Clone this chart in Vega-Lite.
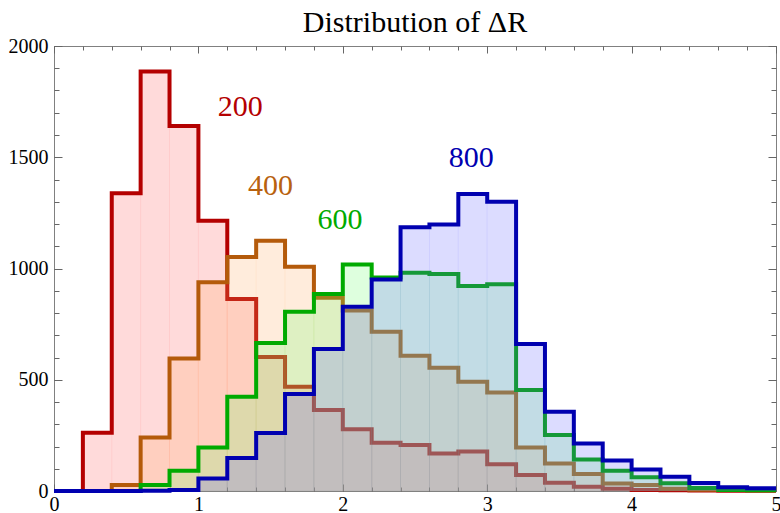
{
  "$schema": "https://vega.github.io/schema/vega-lite/v6.json",
  "width": 722,
  "height": 445,
  "autosize": {"type": "none"},
  "padding": {"left": 54, "top": 46, "right": 4, "bottom": 22},
  "background": "white",
  "title": {"text": "Distribution of ΔR", "font": "Liberation Serif, Times New Roman, serif", "fontSize": 30, "fontWeight": "normal", "color": "black", "anchor": "middle", "offset": -2},
  "config": {
    "view": {"stroke": "#808080", "strokeWidth": 1},
    "text": {"font": "Liberation Serif, Times New Roman, serif"},
    "axis": {"domain": false, "grid": false, "labelFont": "Liberation Serif, Times New Roman, serif", "labelFontSize": 20, "labelColor": "black", "tickColor": "#666666", "tickWidth": 1, "labelOverlap": false, "labelFlush": false, "labelBound": false}
  },
  "resolve": {"axis": {"x": "independent", "y": "independent"}},
  "datasets": {
    "hist": [
      {"s":"200","x0":0,"x1":0.2,"n":0},{"s":"200","x0":0.2,"x1":0.4,"n":262},{"s":"200","x0":0.4,"x1":0.6,"n":1338},{"s":"200","x0":0.6,"x1":0.8,"n":1885},{"s":"200","x0":0.8,"x1":1,"n":1640},
      {"s":"200","x0":1,"x1":1.2,"n":1215},{"s":"200","x0":1.2,"x1":1.4,"n":863},{"s":"200","x0":1.4,"x1":1.6,"n":602},{"s":"200","x0":1.6,"x1":1.8,"n":469},{"s":"200","x0":1.8,"x1":2,"n":364},
      {"s":"200","x0":2,"x1":2.2,"n":278},{"s":"200","x0":2.2,"x1":2.4,"n":217},{"s":"200","x0":2.4,"x1":2.6,"n":207},{"s":"200","x0":2.6,"x1":2.8,"n":169},{"s":"200","x0":2.8,"x1":3,"n":177},
      {"s":"200","x0":3,"x1":3.2,"n":120},{"s":"200","x0":3.2,"x1":3.4,"n":72},{"s":"200","x0":3.4,"x1":3.6,"n":37},{"s":"200","x0":3.6,"x1":3.8,"n":19},{"s":"200","x0":3.8,"x1":4,"n":10},
      {"s":"200","x0":4,"x1":4.2,"n":5},{"s":"200","x0":4.2,"x1":4.4,"n":3},{"s":"200","x0":4.4,"x1":4.6,"n":2},{"s":"200","x0":4.6,"x1":4.8,"n":1},{"s":"200","x0":4.8,"x1":5,"n":1},

      {"s":"400","x0":0,"x1":0.2,"n":0},{"s":"400","x0":0.2,"x1":0.4,"n":0},{"s":"400","x0":0.4,"x1":0.6,"n":27},{"s":"400","x0":0.6,"x1":0.8,"n":241},{"s":"400","x0":0.8,"x1":1,"n":596},
      {"s":"400","x0":1,"x1":1.2,"n":938},{"s":"400","x0":1.2,"x1":1.4,"n":1052},{"s":"400","x0":1.4,"x1":1.6,"n":1125},{"s":"400","x0":1.6,"x1":1.8,"n":1008},{"s":"400","x0":1.8,"x1":2,"n":868},
      {"s":"400","x0":2,"x1":2.2,"n":811},{"s":"400","x0":2.2,"x1":2.4,"n":716},{"s":"400","x0":2.4,"x1":2.6,"n":608},{"s":"400","x0":2.6,"x1":2.8,"n":554},{"s":"400","x0":2.8,"x1":3,"n":491},
      {"s":"400","x0":3,"x1":3.2,"n":443},{"s":"400","x0":3.2,"x1":3.4,"n":196},{"s":"400","x0":3.4,"x1":3.6,"n":124},{"s":"400","x0":3.6,"x1":3.8,"n":76},{"s":"400","x0":3.8,"x1":4,"n":34},
      {"s":"400","x0":4,"x1":4.2,"n":27},{"s":"400","x0":4.2,"x1":4.4,"n":10},{"s":"400","x0":4.4,"x1":4.6,"n":6},{"s":"400","x0":4.6,"x1":4.8,"n":4},{"s":"400","x0":4.8,"x1":5,"n":3},

      {"s":"600","x0":0,"x1":0.2,"n":0},{"s":"600","x0":0.2,"x1":0.4,"n":0},{"s":"600","x0":0.4,"x1":0.6,"n":0},{"s":"600","x0":0.6,"x1":0.8,"n":27},{"s":"600","x0":0.8,"x1":1,"n":91},
      {"s":"600","x0":1,"x1":1.2,"n":195},{"s":"600","x0":1.2,"x1":1.4,"n":424},{"s":"600","x0":1.4,"x1":1.6,"n":665},{"s":"600","x0":1.6,"x1":1.8,"n":806},{"s":"600","x0":1.8,"x1":2,"n":885},
      {"s":"600","x0":2,"x1":2.2,"n":1018},{"s":"600","x0":2.2,"x1":2.4,"n":960},{"s":"600","x0":2.4,"x1":2.6,"n":981},{"s":"600","x0":2.6,"x1":2.8,"n":975},{"s":"600","x0":2.8,"x1":3,"n":921},
      {"s":"600","x0":3,"x1":3.2,"n":929},{"s":"600","x0":3.2,"x1":3.4,"n":454},{"s":"600","x0":3.4,"x1":3.6,"n":252},{"s":"600","x0":3.6,"x1":3.8,"n":142},{"s":"600","x0":3.8,"x1":4,"n":91},
      {"s":"600","x0":4,"x1":4.2,"n":62},{"s":"600","x0":4.2,"x1":4.4,"n":35},{"s":"600","x0":4.4,"x1":4.6,"n":14},{"s":"600","x0":4.6,"x1":4.8,"n":5},{"s":"600","x0":4.8,"x1":5,"n":3},

      {"s":"800","x0":0,"x1":0.2,"n":0},{"s":"800","x0":0.2,"x1":0.4,"n":0},{"s":"800","x0":0.4,"x1":0.6,"n":0},{"s":"800","x0":0.6,"x1":0.8,"n":1},{"s":"800","x0":0.8,"x1":1,"n":4},
      {"s":"800","x0":1,"x1":1.2,"n":56},{"s":"800","x0":1.2,"x1":1.4,"n":148},{"s":"800","x0":1.4,"x1":1.6,"n":261},{"s":"800","x0":1.6,"x1":1.8,"n":436},{"s":"800","x0":1.8,"x1":2,"n":638},
      {"s":"800","x0":2,"x1":2.2,"n":828},{"s":"800","x0":2.2,"x1":2.4,"n":951},{"s":"800","x0":2.4,"x1":2.6,"n":1185},{"s":"800","x0":2.6,"x1":2.8,"n":1198},{"s":"800","x0":2.8,"x1":3,"n":1335},
      {"s":"800","x0":3,"x1":3.2,"n":1300},{"s":"800","x0":3.2,"x1":3.4,"n":661},{"s":"800","x0":3.4,"x1":3.6,"n":356},{"s":"800","x0":3.6,"x1":3.8,"n":214},{"s":"800","x0":3.8,"x1":4,"n":137},
      {"s":"800","x0":4,"x1":4.2,"n":97},{"s":"800","x0":4.2,"x1":4.4,"n":64},{"s":"800","x0":4.4,"x1":4.6,"n":36},{"s":"800","x0":4.6,"x1":4.8,"n":17},{"s":"800","x0":4.8,"x1":5,"n":12}
    ],
    "labels": [
      {"t":"200","x":1.29,"y":1725},
      {"t":"400","x":1.5,"y":1370},
      {"t":"600","x":1.98,"y":1218},
      {"t":"800","x":2.89,"y":1497}
    ]
  },
  "layer": [
    {
      "data": {"name": "hist"},
      "transform": [{"filter": "datum.s === '200'"}],
      "mark": {"type": "rect", "fill": "#ff5757", "fillOpacity": 0.22, "stroke": "#ff5757", "strokeOpacity": 0.05, "strokeWidth": 1},
      "encoding": {
        "x": {"field": "x0", "type": "quantitative", "scale": {"domain": [0, 5], "nice": false, "zero": false}, "axis": {"orient": "bottom", "values": [0,1,2,3,4,5], "format": "d", "tickSize": -7, "labelPadding": 10, "title": null, "labelFont": "Liberation Serif, Times New Roman, serif", "labelFontSize": 20, "labelColor": "black"}},
        "x2": {"field": "x1"},
        "y": {"field": "n", "type": "quantitative", "scale": {"domain": [0, 2000], "nice": false}, "axis": {"orient": "left", "values": [0,500,1000,1500,2000], "format": "d", "tickSize": -8, "labelPadding": 14, "title": null, "labelFont": "Liberation Serif, Times New Roman, serif", "labelFontSize": 20, "labelColor": "black"}},
        "y2": {"datum": 0}
      }
    },
    {
      "data": {"name": "hist"},
      "transform": [{"filter": "datum.s === '200'"}, {"fold": ["x0", "x1"], "as": ["edge", "x"]}],
      "mark": {"type": "line", "color": "#b40000", "strokeWidth": 4, "strokeJoin": "miter", "strokeCap": "butt"},
      "encoding": {
        "x": {"field": "x", "type": "quantitative", "axis": {"orient": "bottom", "values": [0,0.2,0.4,0.6,0.8,1,1.2,1.4,1.6,1.8,2,2.2,2.4,2.6,2.8,3,3.2,3.4,3.6,3.8,4,4.2,4.4,4.6,4.8,5], "labels": false, "tickSize": -4, "title": null}},
        "y": {"field": "n", "type": "quantitative", "axis": {"orient": "left", "values": [0,100,200,300,400,500,600,700,800,900,1000,1100,1200,1300,1400,1500,1600,1700,1800,1900,2000], "labels": false, "tickSize": -5, "title": null}},
        "order": [{"field": "x", "type": "quantitative"}, {"field": "edge", "sort": "descending"}]
      }
    },
    {
      "data": {"name": "hist"},
      "transform": [{"filter": "datum.s === '400'"}],
      "mark": {"type": "rect", "fill": "#ffa960", "fillOpacity": 0.22, "stroke": "#ffa960", "strokeOpacity": 0.05, "strokeWidth": 1},
      "encoding": {
        "x": {"field": "x0", "type": "quantitative", "axis": {"orient": "top", "values": [0,1,2,3,4,5], "labels": false, "tickSize": -7, "title": null}},
        "x2": {"field": "x1"},
        "y": {"field": "n", "type": "quantitative", "axis": {"orient": "right", "values": [0,500,1000,1500,2000], "labels": false, "tickSize": -8, "title": null}},
        "y2": {"datum": 0}
      }
    },
    {
      "data": {"name": "hist"},
      "transform": [{"filter": "datum.s === '400'"}, {"fold": ["x0", "x1"], "as": ["edge", "x"]}],
      "mark": {"type": "line", "color": "#b45a0a", "strokeWidth": 4, "strokeJoin": "miter", "strokeCap": "butt"},
      "encoding": {
        "x": {"field": "x", "type": "quantitative", "axis": {"orient": "top", "values": [0,0.2,0.4,0.6,0.8,1,1.2,1.4,1.6,1.8,2,2.2,2.4,2.6,2.8,3,3.2,3.4,3.6,3.8,4,4.2,4.4,4.6,4.8,5], "labels": false, "tickSize": -4, "title": null}},
        "y": {"field": "n", "type": "quantitative", "axis": {"orient": "right", "values": [0,100,200,300,400,500,600,700,800,900,1000,1100,1200,1300,1400,1500,1600,1700,1800,1900,2000], "labels": false, "tickSize": -5, "title": null}},
        "order": [{"field": "x", "type": "quantitative"}, {"field": "edge", "sort": "descending"}]
      }
    },
    {
      "data": {"name": "hist"},
      "transform": [{"filter": "datum.s === '600'"}],
      "mark": {"type": "rect", "fill": "#69ff69", "fillOpacity": 0.22, "stroke": "#69ff69", "strokeOpacity": 0.05, "strokeWidth": 1},
      "encoding": {
        "x": {"field": "x0", "type": "quantitative", "axis": null},
        "x2": {"field": "x1"},
        "y": {"field": "n", "type": "quantitative", "axis": null},
        "y2": {"datum": 0}
      }
    },
    {
      "data": {"name": "hist"},
      "transform": [{"filter": "datum.s === '600'"}, {"fold": ["x0", "x1"], "as": ["edge", "x"]}],
      "mark": {"type": "line", "color": "#00aa00", "strokeWidth": 4, "strokeJoin": "miter", "strokeCap": "butt"},
      "encoding": {
        "x": {"field": "x", "type": "quantitative", "axis": null},
        "y": {"field": "n", "type": "quantitative", "axis": null},
        "order": [{"field": "x", "type": "quantitative"}, {"field": "edge", "sort": "descending"}]
      }
    },
    {
      "data": {"name": "hist"},
      "transform": [{"filter": "datum.s === '800'"}],
      "mark": {"type": "rect", "fill": "#6060ff", "fillOpacity": 0.22, "stroke": "#6060ff", "strokeOpacity": 0.05, "strokeWidth": 1},
      "encoding": {
        "x": {"field": "x0", "type": "quantitative", "axis": null},
        "x2": {"field": "x1"},
        "y": {"field": "n", "type": "quantitative", "axis": null},
        "y2": {"datum": 0}
      }
    },
    {
      "data": {"name": "hist"},
      "transform": [{"filter": "datum.s === '800'"}, {"fold": ["x0", "x1"], "as": ["edge", "x"]}],
      "mark": {"type": "line", "color": "#0000b0", "strokeWidth": 4, "strokeJoin": "miter", "strokeCap": "butt"},
      "encoding": {
        "x": {"field": "x", "type": "quantitative", "axis": null},
        "y": {"field": "n", "type": "quantitative", "axis": null},
        "order": [{"field": "x", "type": "quantitative"}, {"field": "edge", "sort": "descending"}]
      }
    },
    {
      "data": {"name": "labels"},
      "mark": {"type": "text", "font": "Liberation Serif, Times New Roman, serif", "fontSize": 30, "align": "center", "baseline": "middle"},
      "encoding": {
        "x": {"field": "x", "type": "quantitative", "axis": null},
        "y": {"field": "y", "type": "quantitative", "axis": null},
        "text": {"field": "t"},
        "color": {"field": "t", "type": "nominal", "legend": null, "scale": {"domain": ["200","400","600","800"], "range": ["#b40000","#b8620f","#00aa00","#0000b0"]}}
      }
    }
  ]
}
